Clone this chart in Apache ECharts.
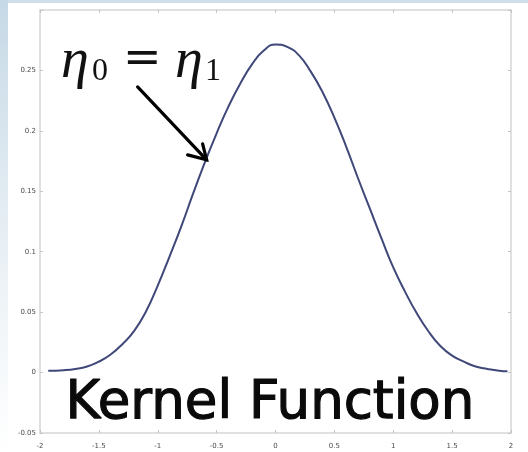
<!DOCTYPE html>
<html>
<head>
<meta charset="utf-8">
<script src="https://cdn.jsdelivr.net/npm/echarts@6/dist/echarts.min.js"></script>
<style>
  html, body { margin: 0; padding: 0; background: #ffffff; }
  #chart { width: 528px; height: 452px; }
</style>
</head>
<body>
<div id="chart"></div>
<script>
// Kernel curve sample points (x position, kernel weight)
const kernelX = [-1.93, -1.8, -1.7, -1.6, -1.5, -1.4, -1.3, -1.2, -1.1, -1.0,
                 -0.9, -0.8, -0.7, -0.6, -0.5, -0.4, -0.3, -0.2, -0.1, 0.0,
                 0.1, 0.2, 0.3, 0.4, 0.5, 0.6, 0.7, 0.8, 0.9, 1.0,
                 1.1, 1.2, 1.3, 1.4, 1.5, 1.6, 1.7, 1.8, 1.9, 1.97];
const kernelY = [0.0015, 0.002, 0.003, 0.005, 0.009, 0.015, 0.0235, 0.0345, 0.0505, 0.072,
                 0.096, 0.121, 0.148, 0.174, 0.198, 0.220, 0.239, 0.255, 0.2665, 0.2715,
                 0.2695, 0.2625, 0.249, 0.232, 0.211, 0.187, 0.161, 0.136, 0.111, 0.087,
                 0.067, 0.049, 0.034, 0.022, 0.014, 0.009, 0.005, 0.003, 0.0015, 0.001];

// Axis ranges and tick steps
const xRange = [-2, 2];
const xStep = 0.5;
const yRange = [-0.05, 0.3];
const yStep = 0.05;
const hiddenYTicks = ['0.3'];

// Annotation texts and the point the arrow marks
const titleText = 'Kernel Function';
const etaSymbol = 'η';
const subscripts = ['0', '1'];
const arrowTarget = [-0.585, 0.176];

const chart = echarts.init(document.getElementById('chart'), null, { renderer: 'canvas' });

const frameColor = '#d6d6d6';
const tickColor = '#c4c4c4';
const labelStyle = { color: '#4a4a4a', fontSize: 7, fontFamily: 'DejaVu Sans' };

function fmt(v) {
  const s = String(+v.toFixed(2));
  return hiddenYTicks.indexOf(s) >= 0 ? '' : s;
}

const data = kernelX.map((x, i) => [x, kernelY[i]]);

function axisCommon(showLabel, isY, pos) {
  return {
    type: 'value',
    position: pos,
    min: isY ? yRange[0] : xRange[0],
    max: isY ? yRange[1] : xRange[1],
    interval: isY ? yStep : xStep,
    axisLine: { show: true, onZero: false, lineStyle: { color: frameColor, width: 1.5 } },
    axisTick: { show: true, inside: true, length: 3, lineStyle: { color: tickColor } },
    splitLine: { show: false },
    axisLabel: showLabel
      ? Object.assign({ margin: isY ? 4 : 10, formatter: fmt, showMinLabel: true, showMaxLabel: true }, labelStyle)
      : { show: false }
  };
}

chart.setOption({
  animation: false,
  backgroundColor: '#ffffff',
  grid: { left: 40, right: 17, top: 10, bottom: 19 },
  xAxis: [axisCommon(true, false, 'bottom'), axisCommon(false, false, 'top')],
  yAxis: [axisCommon(true, true, 'left'), axisCommon(false, true, 'right')],
  series: [{
    type: 'line',
    data: data,
    smooth: 0.5,
    symbol: 'none',
    lineStyle: { color: '#3f4878', width: 2 },
    z: 3
  }]
});

// Decorations: slide frame, formula label, arrow and the big caption
function mathText(text, x, y, size, italic, family) {
  return {
    type: 'text', z: 10, x: x, y: y, silent: true,
    style: {
      text: text, fill: '#111',
      font: (italic ? 'italic ' : '') + size + 'px ' + (family || '"Liberation Serif", "DejaVu Serif", serif'),
      align: 'left', verticalAlign: 'middle'
    }
  };
}

function drawOverlay() {
  const tip = chart.convertToPixel({ xAxisIndex: 0, yAxisIndex: 0 }, arrowTarget);
  const tail = [tip[0] - 69, tip[1] - 73];
  chart.setOption({
    graphic: [
      { type: 'rect', silent: true, z: 0, shape: { x: 0, y: 0, width: 528, height: 3 },
        style: { fill: '#cfdfe9' } },
      { type: 'rect', silent: true, z: 0, shape: { x: 0, y: 0, width: 8, height: 452 },
        style: { fill: new echarts.graphic.LinearGradient(0, 0, 0, 1, [
          { offset: 0, color: '#c6d9e6' }, { offset: 0.55, color: '#e9f0f5' }, { offset: 1, color: '#ffffff' }]) } },
      mathText(etaSymbol, 61, 62, 56, true),
      mathText(subscripts[0], 92, 72, 32, false),
      mathText('=', 123, 60, 46, false, '"DejaVu Serif", serif'),
      mathText(etaSymbol, 175, 62, 56, true),
      mathText(subscripts[1], 205, 72, 32, false),
      { type: 'polyline', z: 10, silent: true,
        shape: { points: [tail, tip] },
        style: { stroke: '#000', lineWidth: 3.2, lineCap: 'round' } },
      { type: 'polyline', z: 10, silent: true,
        shape: { points: [[tip[0] - 4, tip[1] - 16], tip, [tip[0] - 19, tip[1] - 5]] },
        style: { stroke: '#000', lineWidth: 3.2, lineCap: 'round', lineJoin: 'miter', fill: null } },
      { type: 'text', z: 10, x: 270, y: 404, silent: true,
        style: { text: titleText, font: '53px "DejaVu Sans", sans-serif', fill: '#0a0a0a',
                 stroke: '#0a0a0a', lineWidth: 1.2,
                 align: 'center', verticalAlign: 'middle' } }
    ]
  });
}
drawOverlay();
</script>
</body>
</html>
